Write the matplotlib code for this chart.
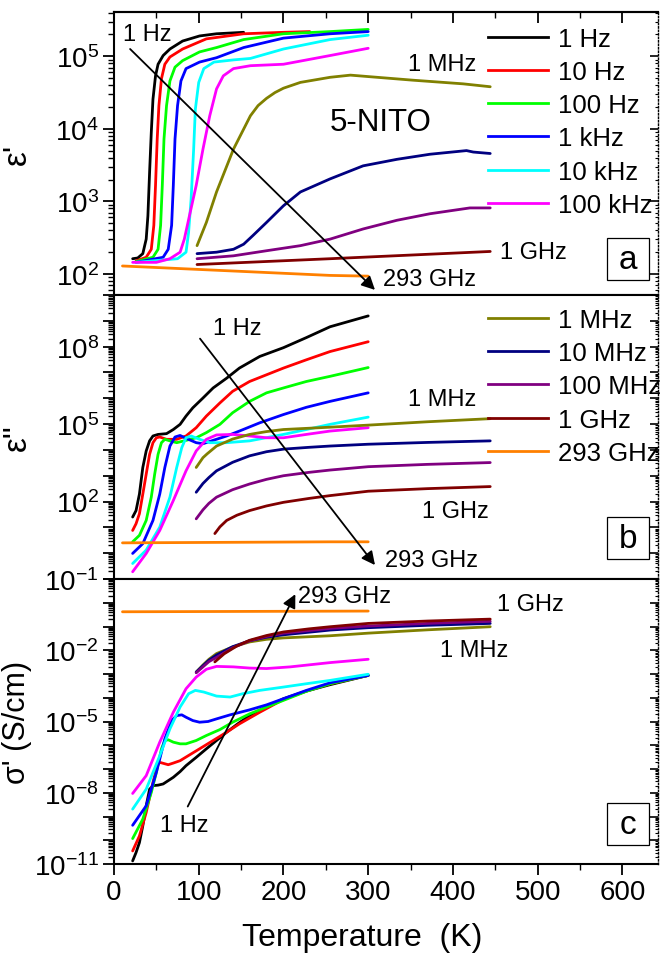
import numpy as np
import matplotlib
matplotlib.use('Agg')
import matplotlib.pyplot as plt
from matplotlib.lines import Line2D
from matplotlib.patches import Rectangle
from matplotlib.ticker import FixedLocator, LogLocator, MultipleLocator, FuncFormatter, NullFormatter

plt.rcParams['font.family'] = ['Liberation Sans', 'DejaVu Sans']
plt.rcParams['mathtext.fontset'] = 'custom'
plt.rcParams['mathtext.rm'] = 'Liberation Sans'
plt.rcParams['mathtext.it'] = 'Liberation Sans:italic'
plt.rcParams['mathtext.bf'] = 'Liberation Sans:bold'

# frequencies and Origin-style colours
freqs = ['1 Hz', '10 Hz', '100 Hz', '1 kHz', '10 kHz', '100 kHz',
         '1 MHz', '10 MHz', '100 MHz', '1 GHz', '293 GHz']
colors = ['#000000', '#FF0000', '#00FF00', '#0000FF', '#00FFFF', '#FF00FF',
          '#808000', '#000080', '#800080', '#800000', '#FF8000']

# ---- (a) eps' : temperature (K) and log10(eps') ----
a_T = [
    [22, 28, 34, 38, 40, 42, 44, 46, 49, 52, 58, 66, 81, 101, 121, 153],
    [26, 38, 44, 47, 49, 51, 53, 56, 60, 66, 81, 109, 153, 200, 231],
    [26, 46, 52, 55, 57, 59, 62, 66, 72, 81, 101, 121, 153, 200, 255, 300],
    [26, 58, 64, 68, 70, 72, 75, 79, 85, 101, 121, 153, 200, 255, 300],
    [26, 75, 85, 88, 91, 94, 96, 100, 106, 118, 141, 161, 200, 255, 300],
    [22, 50, 66, 78, 83, 89, 97, 105, 113, 121, 129, 141, 161, 200, 255, 300],
    [98, 109, 121, 141, 161, 170, 180, 190, 200, 220, 255, 279, 300, 353, 412, 444],
    [98, 121, 141, 153, 164, 180, 200, 220, 255, 294, 334, 373, 416, 424, 444],
    [98, 141, 180, 220, 255, 294, 334, 373, 420, 444],
    [98, 255, 444],
    [10, 255, 300],
]
a_log = [
    [2.21, 2.22, 2.28, 2.48, 2.80, 3.40, 3.95, 4.41, 4.73, 4.89, 5.01, 5.10, 5.21, 5.28, 5.31, 5.33],
    [2.18, 2.23, 2.34, 2.67, 3.22, 3.86, 4.32, 4.69, 4.89, 4.99, 5.10, 5.24, 5.31, 5.33, 5.34],
    [2.17, 2.23, 2.34, 2.67, 3.22, 3.86, 4.32, 4.66, 4.85, 4.94, 5.06, 5.12, 5.23, 5.31, 5.34, 5.37],
    [2.16, 2.23, 2.34, 2.67, 3.22, 3.86, 4.32, 4.66, 4.83, 4.92, 4.98, 5.12, 5.25, 5.31, 5.34],
    [2.16, 2.21, 2.30, 2.57, 3.03, 3.72, 4.27, 4.64, 4.83, 4.92, 4.95, 4.97, 5.10, 5.23, 5.29],
    [2.16, 2.16, 2.21, 2.30, 2.48, 2.80, 3.22, 3.72, 4.18, 4.55, 4.73, 4.83, 4.87, 4.89, 5.01, 5.11],
    [2.39, 2.71, 3.13, 3.72, 4.18, 4.32, 4.42, 4.50, 4.56, 4.64, 4.71, 4.74, 4.72, 4.67, 4.62, 4.58],
    [2.28, 2.30, 2.34, 2.41, 2.53, 2.71, 2.94, 3.13, 3.31, 3.49, 3.58, 3.65, 3.70, 3.68, 3.66],
    [2.21, 2.25, 2.32, 2.39, 2.48, 2.62, 2.74, 2.83, 2.91, 2.91],
    [2.13, 2.21, 2.31],
    [2.11, 1.98, 1.97],
]

# ---- (b) eps'' ----
b_T = [
    [22, 26, 30, 34, 38, 42, 46, 52, 62, 70, 78, 85, 93, 105, 117, 133, 148, 172, 200, 227, 255, 300],
    [22, 26, 30, 34, 38, 42, 46, 50, 54, 62, 74, 85, 97, 109, 125, 140, 160, 200, 227, 255, 300],
    [22, 30, 38, 44, 48, 52, 56, 60, 66, 74, 85, 97, 109, 125, 140, 160, 180, 200, 227, 255, 300],
    [22, 34, 46, 54, 60, 66, 72, 78, 85, 97, 105, 117, 133, 148, 172, 200, 227, 255, 300],
    [22, 38, 54, 66, 74, 80, 85, 91, 101, 113, 133, 160, 200, 227, 255, 300],
    [22, 38, 54, 70, 85, 97, 109, 121, 140, 160, 180, 200, 227, 255, 300],
    [97, 105, 110, 121, 140, 160, 180, 200, 255, 300, 370, 444],
    [97, 105, 112, 121, 140, 160, 180, 200, 230, 255, 300, 370, 444],
    [97, 105, 112, 121, 140, 160, 180, 200, 230, 255, 300, 370, 444],
    [119, 125, 133, 145, 160, 180, 200, 230, 255, 300, 370, 444],
    [10, 255, 300],
]
b_log = [
    [1.40, 1.65, 2.29, 3.32, 3.96, 4.35, 4.54, 4.60, 4.63, 4.79, 4.99, 5.31, 5.63, 6.01, 6.40, 6.78, 7.17, 7.62, 7.96, 8.35, 8.77, 9.19],
    [0.88, 1.14, 1.53, 2.29, 3.06, 3.83, 4.28, 4.47, 4.50, 4.41, 4.41, 4.54, 4.86, 5.31, 5.82, 6.27, 6.65, 7.17, 7.49, 7.81, 8.19],
    [0.44, 0.69, 1.27, 2.17, 3.06, 3.83, 4.28, 4.41, 4.35, 4.28, 4.37, 4.47, 4.67, 4.99, 5.44, 5.88, 6.21, 6.40, 6.65, 6.85, 7.19],
    [-0.01, 0.37, 1.27, 2.29, 3.32, 4.15, 4.50, 4.56, 4.45, 4.28, 4.24, 4.37, 4.54, 4.73, 5.05, 5.37, 5.65, 5.88, 6.21],
    [-0.40, 0.12, 1.01, 2.17, 3.32, 4.09, 4.47, 4.54, 4.41, 4.28, 4.28, 4.35, 4.60, 4.79, 4.99, 5.27],
    [-0.72, -0.01, 0.88, 2.04, 3.19, 3.96, 4.41, 4.58, 4.60, 4.54, 4.47, 4.47, 4.60, 4.73, 4.86],
    [3.32, 3.70, 3.85, 4.15, 4.42, 4.60, 4.71, 4.79, 4.88, 4.96, 5.09, 5.21],
    [2.36, 2.70, 2.93, 3.19, 3.52, 3.77, 3.93, 4.03, 4.10, 4.15, 4.22, 4.29, 4.35],
    [1.33, 1.68, 1.93, 2.17, 2.46, 2.68, 2.86, 3.00, 3.13, 3.22, 3.35, 3.44, 3.51],
    [0.76, 1.02, 1.27, 1.47, 1.65, 1.83, 1.97, 2.12, 2.23, 2.40, 2.50, 2.58],
    [0.40, 0.44, 0.44],
]

# ---- (c) sigma' (S/cm) ----
c_T = [
    [22, 26, 30, 34, 38, 42, 46, 52, 58, 64, 70, 78, 85, 97, 109, 121, 133, 146, 160, 180, 200, 227, 255, 300],
    [22, 30, 38, 46, 51, 54, 58, 64, 70, 78, 89, 101, 117, 133, 148, 172, 200, 227, 255, 300],
    [22, 34, 44, 50, 56, 60, 64, 70, 78, 85, 97, 109, 125, 140, 160, 180, 200, 227, 255, 300],
    [22, 38, 50, 60, 68, 74, 80, 85, 93, 101, 111, 121, 137, 160, 180, 200, 227, 255, 300],
    [22, 38, 54, 66, 78, 88, 96, 106, 121, 137, 152, 172, 200, 227, 255, 300],
    [22, 38, 54, 70, 85, 97, 109, 121, 141, 160, 180, 208, 255, 300],
    [97, 105, 112, 121, 140, 160, 180, 200, 255, 300, 370, 444],
    [97, 105, 112, 121, 140, 160, 180, 200, 255, 300, 370, 444],
    [97, 105, 112, 121, 140, 160, 180, 200, 255, 300, 370, 444],
    [119, 130, 145, 160, 180, 200, 230, 255, 300, 370, 444],
    [10, 300],
]
c_log = [
    [-10.87, -10.52, -10.10, -9.39, -8.55, -7.85, -7.70, -7.68, -7.63, -7.49, -7.35, -7.11, -6.86, -6.51, -6.15, -5.80, -5.45, -5.10, -4.75, -4.39, -4.04, -3.72, -3.45, -3.06],
    [-10.45, -9.82, -8.83, -7.56, -6.86, -6.72, -6.76, -6.82, -6.75, -6.65, -6.41, -6.15, -5.80, -5.45, -5.10, -4.61, -4.07, -3.72, -3.41, -3.06],
    [-9.93, -9.11, -7.99, -7.14, -6.15, -5.80, -5.77, -5.87, -5.94, -5.94, -5.80, -5.59, -5.34, -5.03, -4.68, -4.39, -4.11, -3.73, -3.41, -3.06],
    [-9.37, -8.55, -7.14, -5.73, -4.96, -4.75, -4.72, -4.82, -4.96, -5.03, -5.00, -4.89, -4.72, -4.51, -4.30, -4.04, -3.69, -3.37, -3.06],
    [-8.69, -7.85, -6.44, -5.31, -4.39, -3.83, -3.69, -3.76, -3.93, -3.97, -3.83, -3.69, -3.55, -3.41, -3.27, -3.01],
    [-8.03, -7.28, -5.87, -4.61, -3.62, -3.13, -2.80, -2.68, -2.70, -2.75, -2.77, -2.70, -2.52, -2.38],
    [-2.92, -2.62, -2.38, -2.14, -1.86, -1.65, -1.54, -1.48, -1.39, -1.28, -1.14, -1.01],
    [-2.92, -2.65, -2.42, -2.20, -1.85, -1.60, -1.45, -1.35, -1.15, -1.05, -0.95, -0.87],
    [-2.95, -2.70, -2.48, -2.30, -1.90, -1.60, -1.42, -1.28, -1.08, -0.98, -0.87, -0.78],
    [-2.49, -2.15, -1.82, -1.58, -1.38, -1.23, -1.10, -1.01, -0.87, -0.77, -0.69],
    [-0.38, -0.35],
]


def log_formatter(labeled):
    def fmt(v, pos):
        e = int(round(np.log10(v)))
        if e in labeled:
            return r'$\mathregular{10^{%d}}$' % e
        return ''
    return FuncFormatter(fmt)


def style_axes(ax, ylim, labeled, top_ticks=False):
    ax.set_yscale('log')
    ax.set_xlim(0, 642)
    ax.set_ylim(*ylim)
    lo, hi = int(np.floor(np.log10(ylim[0]))), int(np.ceil(np.log10(ylim[1])))
    decades = [10.0 ** e for e in range(lo, hi + 1)]
    ax.yaxis.set_major_locator(FixedLocator(decades))
    ax.yaxis.set_major_formatter(log_formatter(labeled))
    ax.yaxis.set_minor_locator(LogLocator(base=10, subs=np.arange(2, 10), numticks=60))
    ax.yaxis.set_minor_formatter(NullFormatter())
    ax.xaxis.set_major_locator(MultipleLocator(100))
    ax.xaxis.set_minor_locator(MultipleLocator(50))
    ax.tick_params(axis='both', which='major', direction='out', length=8, width=1.3,
                   labelsize=20, pad=3)
    ax.tick_params(axis='both', which='minor', direction='out', length=4.5, width=1.0)
    for s in ['left', 'bottom', 'top']:
        ax.spines[s].set_linewidth(1.5)
    ax.spines['right'].set_visible(False)
    # right side: dotted spine with inward ticks
    sec = ax.secondary_yaxis('right')
    sec.yaxis.set_major_locator(FixedLocator(decades))
    sec.yaxis.set_minor_locator(LogLocator(base=10, subs=np.arange(2, 10), numticks=60))
    sec.tick_params(which='major', direction='in', length=6, width=1.2, labelright=False)
    sec.tick_params(which='minor', direction='in', length=2, width=0.8, labelright=False)
    sec.spines['right'].set_linestyle((0, (1, 1.5)))
    sec.spines['right'].set_linewidth(1.0)
    if top_ticks:
        st = ax.secondary_xaxis('top')
        st.xaxis.set_major_locator(MultipleLocator(100))
        st.xaxis.set_minor_locator(MultipleLocator(50))
        st.tick_params(which='major', direction='in', length=8, width=1.3, labeltop=False)
        st.tick_params(which='minor', direction='in', length=4.5, width=1.0, labeltop=False)
        st.spines['top'].set_linewidth(1.5)


def panel_box(ax, cx, cy, letter):
    w, h = 42 / 544, 42 / 284
    ax.add_patch(Rectangle((cx - w / 2, cy - h / 2), w, h, transform=ax.transAxes,
                           fill=True, fc='white', ec='k', lw=0.9, zorder=5))
    ax.text(cx, cy, letter, transform=ax.transAxes, ha='center', va='center',
            fontsize=24, zorder=6)


def arrow(ax, start, end):
    ax.annotate('', xy=end, xytext=start,
                arrowprops=dict(arrowstyle='-|>', color='k', lw=1.3, mutation_scale=20,
                                shrinkA=0, shrinkB=0))


fig = plt.figure(figsize=(6.6, 9.54), dpi=100)
left, width = 114 / 660, 544 / 660
ax_a = fig.add_axes([left, 1 - 296 / 954, width, 283 / 954])
ax_b = fig.add_axes([left, 1 - 580 / 954, width, 284 / 954])
ax_c = fig.add_axes([left, 1 - 865 / 954, width, 285 / 954])

for ax, Ts, logs in [(ax_a, a_T, a_log), (ax_b, b_T, b_log), (ax_c, c_T, c_log)]:
    for T, lv, col in zip(Ts, logs, colors):
        ax.plot(T, 10.0 ** np.array(lv), color=col, lw=2.0,
                solid_joinstyle='round', solid_capstyle='round')

style_axes(ax_a, (10 ** 1.71, 10 ** 5.61), {2, 3, 4, 5}, top_ticks=True)
style_axes(ax_b, (1e-1, 1e10), {-1, 2, 5, 8})
style_axes(ax_c, (1e-11, 1e1), {-11, -8, -5, -2})
ax_a.tick_params(axis='x', labelbottom=False)
ax_b.tick_params(axis='x', labelbottom=False)

ax_a.set_ylabel("\u03b5'", fontsize=24)
ax_b.set_ylabel('\u03b5"', fontsize=24)
ax_c.set_ylabel("\u03c3' (S/cm)", fontsize=22)
for ax in (ax_a, ax_b, ax_c):
    ax.yaxis.set_label_coords(-0.15, 0.5)
ax_c.set_xlabel('Temperature  (K)', fontsize=23)
ax_c.xaxis.set_label_coords(0.456, -0.205)

# legends
handles = [Line2D([], [], color=c, lw=2.0) for c in colors]
leg_kw = dict(loc='upper left', frameon=False, fontsize=18.5, handlelength=2.33,
              handletextpad=0.39, labelspacing=0.36, borderpad=0, borderaxespad=0)
ax_a.legend(handles[:6], freqs[:6], bbox_to_anchor=(0.6875, 0.948), **leg_kw)
ax_b.legend(handles[6:], freqs[6:], bbox_to_anchor=(0.6875, 0.955), **leg_kw)

ann = 17
# annotations panel a
ax_a.text(10.5, 10 ** 5.30, '1 Hz', fontsize=ann, va='center')
arrow(ax_a, (19, 10 ** 5.10), (308, 10 ** 1.78))
ax_a.text(318, 10 ** 1.93, '293 GHz', fontsize=ann, va='center')
ax_a.text(347, 10 ** 4.90, '1 MHz', fontsize=ann, va='center')
ax_a.text(456, 10 ** 2.30, '1 GHz', fontsize=ann, va='center')
ax_a.text(255, 10 ** 4.10, '5-NITO', fontsize=22.5, va='center')
panel_box(ax_a, 0.945, 0.127, 'a')

# annotations panel b
ax_b.text(117, 10 ** 8.73, '1 Hz', fontsize=ann, va='center')
arrow(ax_b, (101.5, 10 ** 8.31), (308, 10 ** -0.46))
ax_b.text(320, 10 ** -0.27, '293 GHz', fontsize=ann, va='center')
ax_b.text(347, 10 ** 5.96, '1 MHz', fontsize=ann, va='center')
ax_b.text(364, 10 ** 1.62, '1 GHz', fontsize=ann, va='center')
panel_box(ax_b, 0.945, 0.144, 'b')

# annotations panel c
ax_c.text(54, 10 ** -9.34, '1 Hz', fontsize=ann, va='center')
arrow(ax_c, (87, 10 ** -8.58), (214, 10 ** 0.36))
ax_c.text(217, 10 ** 0.28, '293 GHz', fontsize=ann, va='center')
ax_c.text(452, 10 ** -0.06, '1 GHz', fontsize=ann, va='center')
ax_c.text(385, 10 ** -2.0, '1 MHz', fontsize=ann, va='center')
panel_box(ax_c, 0.945, 0.14, 'c')

fig.savefig('out.png', dpi=100)
